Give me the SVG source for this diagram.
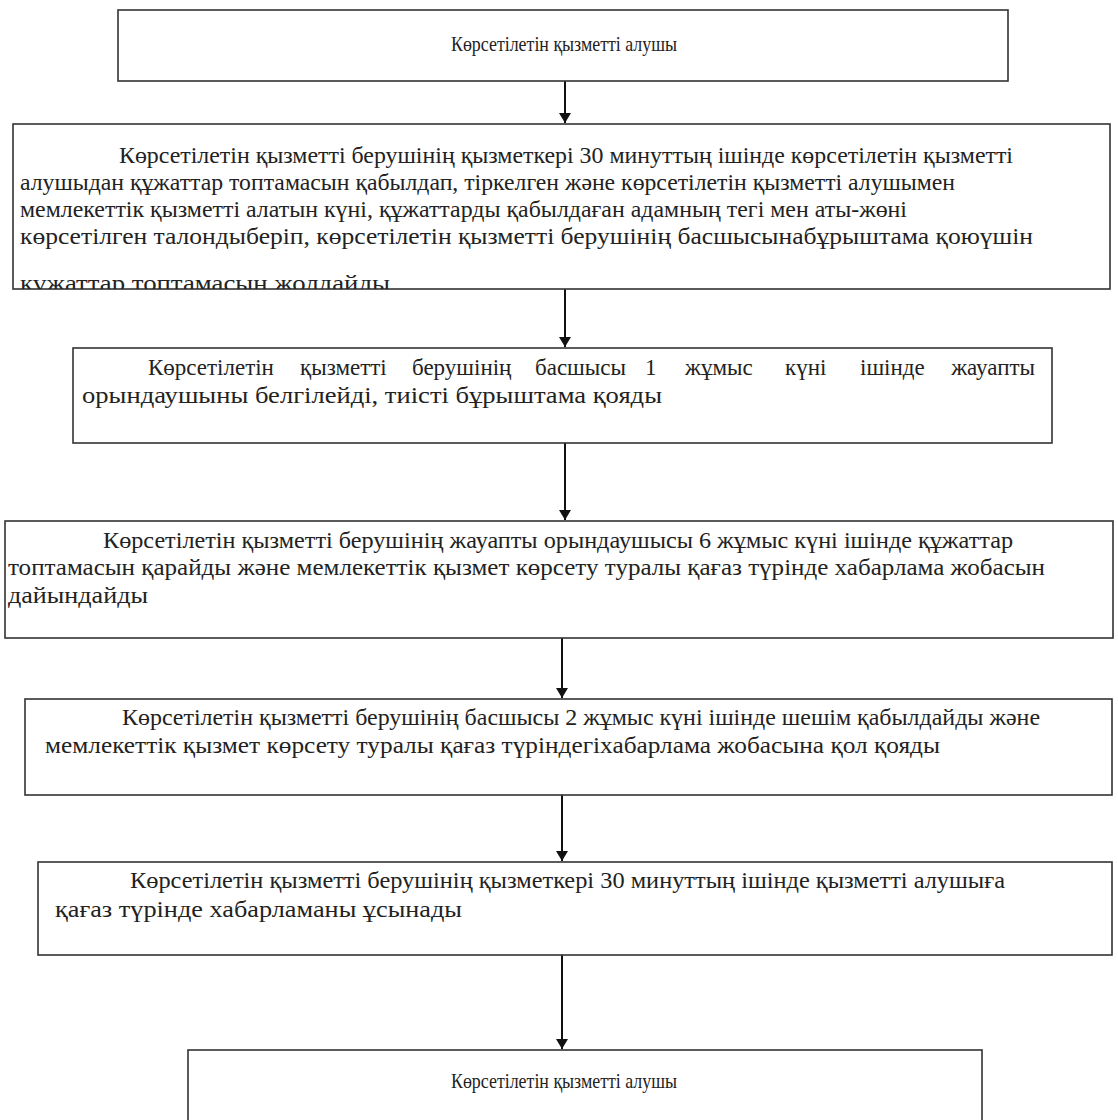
<svg xmlns="http://www.w3.org/2000/svg" width="1118" height="1120" viewBox="0 0 1118 1120">
<defs>
<style>
.box{fill:#fff;stroke:#333;stroke-width:1.6}
.t{font-family:"Liberation Serif","DejaVu Serif",serif;font-size:23px;fill:#222}
.s{font-size:22px}
.c{text-anchor:middle}
.e{text-anchor:end}
.conn line{stroke:#111;stroke-width:2}
</style>
<marker id="ah" viewBox="0 0 10 12" refX="10" refY="6" markerWidth="10" markerHeight="12" markerUnits="userSpaceOnUse" orient="auto">
<path d="M0,0 L10,6 L0,12 Z" fill="#111"/>
</marker>
<clipPath id="clip2"><rect x="13" y="124" width="1097" height="165"/></clipPath>
</defs>
<rect width="1118" height="1120" fill="#fff"/>
<g id="connectors" class="conn">
<line x1="565" y1="81" x2="565" y2="123" marker-end="url(#ah)"/>
<line x1="565" y1="289" x2="565" y2="347" marker-end="url(#ah)"/>
<line x1="565" y1="443" x2="565" y2="520" marker-end="url(#ah)"/>
<line x1="562" y1="638" x2="562" y2="698" marker-end="url(#ah)"/>
<line x1="562" y1="795" x2="562" y2="861" marker-end="url(#ah)"/>
<line x1="562" y1="955" x2="562" y2="1049" marker-end="url(#ah)"/>
</g>
<g id="n1">
<rect class="box" x="118" y="10" width="890" height="71"/>
<text class="t s c" x="564" y="51" textLength="226" lengthAdjust="spacingAndGlyphs">Көрсетілетін қызметті алушы</text>
</g>
<g id="n2">
<rect class="box" x="13" y="124" width="1097" height="165"/>
<g clip-path="url(#clip2)">
<text class="t" x="119" y="163" textLength="894" lengthAdjust="spacingAndGlyphs">Көрсетілетін қызметті берушінің қызметкері 30 минуттың ішінде  көрсетілетін қызметті</text>
<text class="t" x="20" y="190" textLength="935" lengthAdjust="spacingAndGlyphs">алушыдан құжаттар топтамасын қабылдап, тіркелген және көрсетілетін қызметті алушымен</text>
<text class="t" x="20" y="217" textLength="887" lengthAdjust="spacingAndGlyphs">мемлекеттік қызметті алатын күні, құжаттарды қабылдаған адамның тегі мен аты-жөні</text>
<text class="t" x="20" y="244" textLength="1013" lengthAdjust="spacingAndGlyphs">көрсетілген талондыберіп, көрсетілетін қызметті берушінің басшысынабұрыштама  қоюүшін</text>
<text class="t" x="20" y="291" textLength="370" lengthAdjust="spacingAndGlyphs">құжаттар топтамасын жолдайды</text>
</g>
</g>
<g id="n3">
<rect class="box" x="73" y="348" width="979" height="95"/>
<text class="t" y="375"><tspan x="148">Көрсетілетін</tspan><tspan x="300">қызметті</tspan><tspan x="412">берушінің</tspan><tspan x="535">басшысы</tspan><tspan x="645">1</tspan><tspan x="685">жұмыс</tspan><tspan x="785">күні</tspan><tspan x="860">ішінде</tspan></text>
<text class="t e" x="1035" y="375">жауапты</text>
<text class="t" x="82" y="403" textLength="580" lengthAdjust="spacingAndGlyphs">орындаушыны белгілейді, тиісті бұрыштама қояды</text>
</g>
<g id="n4">
<rect class="box" x="5" y="521" width="1108" height="117"/>
<text class="t" x="103" y="548" textLength="910" lengthAdjust="spacingAndGlyphs">Көрсетілетін қызметті берушінің  жауапты орындаушысы 6 жұмыс күні ішінде құжаттар</text>
<text class="t" x="8" y="575" textLength="1037" lengthAdjust="spacingAndGlyphs">топтамасын қарайды және мемлекеттік  қызмет көрсету туралы қағаз түрінде хабарлама жобасын</text>
<text class="t" x="8" y="603" textLength="140" lengthAdjust="spacingAndGlyphs">дайындайды</text>
</g>
<g id="n5">
<rect class="box" x="25" y="699" width="1087" height="96"/>
<text class="t" x="122" y="725" textLength="918" lengthAdjust="spacingAndGlyphs">Көрсетілетін қызметті берушінің басшысы 2 жұмыс күні ішінде шешім қабылдайды және</text>
<text class="t" x="45" y="753" textLength="895" lengthAdjust="spacingAndGlyphs">мемлекеттік қызмет көрсету туралы қағаз түріндегіхабарлама жобасына қол қояды</text>
</g>
<g id="n6">
<rect class="box" x="38" y="862" width="1074" height="93"/>
<text class="t" x="130" y="888" textLength="875" lengthAdjust="spacingAndGlyphs">Көрсетілетін қызметті берушінің қызметкері 30 минуттың ішінде  қызметті алушыға</text>
<text class="t" x="55" y="917" textLength="407" lengthAdjust="spacingAndGlyphs">қағаз түрінде хабарламаны ұсынады</text>
</g>
<g id="n7">
<rect class="box" x="188" y="1050" width="794" height="80"/>
<text class="t s c" x="564" y="1088" textLength="226" lengthAdjust="spacingAndGlyphs">Көрсетілетін қызметті алушы</text>
</g>
</svg>
